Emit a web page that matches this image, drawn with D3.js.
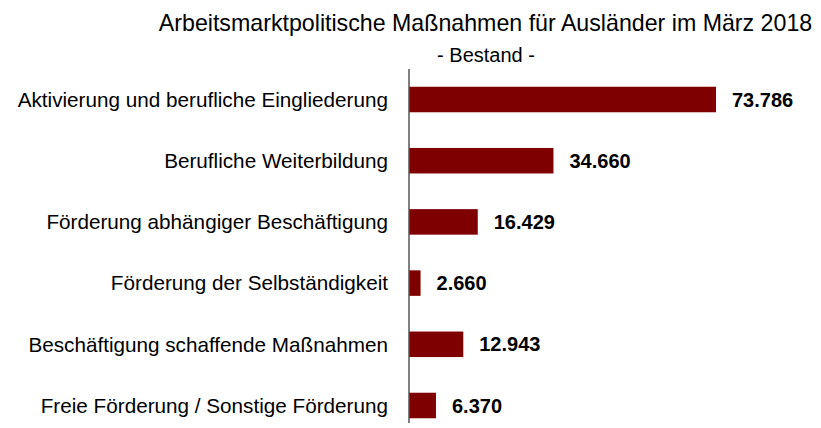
<!DOCTYPE html>
<html>
<head>
<meta charset="utf-8">
<script src="https://cdn.jsdelivr.net/npm/d3@7"></script>
<style>
  html, body { margin: 0; padding: 0; background: #ffffff; }
  svg { display: block; }
  text { font-family: "Liberation Sans", Arial, Helvetica, sans-serif; fill: #000; }
</style>
</head>
<body>
<svg id="chart" width="821" height="428"></svg>
<script>
// Bestand je Maßnahmenart
const categories = [
  "Aktivierung und berufliche Eingliederung",
  "Berufliche Weiterbildung",
  "Förderung abhängiger Beschäftigung",
  "Förderung der Selbständigkeit",
  "Beschäftigung schaffende Maßnahmen",
  "Freie Förderung / Sonstige Förderung"
];
const values = [73786, 34660, 16429, 2660, 12943, 6370];

const titleText = "Arbeitsmarktpolitische Maßnahmen für Ausländer im März 2018";
const subtitleText = "- Bestand -";

const svg = d3.select("#chart");
const x0 = 409.5;

const fmt = d3.formatLocale({ decimal: ",", thousands: ".", grouping: [3], currency: ["", " €"] }).format(",d");

const x = d3.scaleLinear()
  .domain([0, 80000])
  .range([x0, x0 + 306.5 * 80000 / 73786]);

const y = d3.scaleBand()
  .domain(categories)
  .range([69, 436])
  .paddingInner(0.583)
  .paddingOuter(0.29);

// Titel
svg.append("text")
  .attr("x", 485.5)
  .attr("y", 31)
  .attr("text-anchor", "middle")
  .style("font-size", "23.2px")
  .text(titleText);

svg.append("text")
  .attr("x", 486)
  .attr("y", 62.3)
  .attr("text-anchor", "middle")
  .style("font-size", "20px")
  .text(subtitleText);

// Balken
svg.append("g")
  .selectAll("rect")
  .data(values)
  .join("rect")
  .attr("x", x(0))
  .attr("y", (d, i) => y(categories[i]))
  .attr("width", d => x(d) - x(0))
  .attr("height", y.bandwidth())
  .attr("fill", "#7f0000");

// Werte
svg.append("g")
  .selectAll("text")
  .data(values)
  .join("text")
  .attr("x", d => x(d) + 16)
  .attr("y", (d, i) => y(categories[i]) + y.bandwidth() / 2)
  .attr("dy", "0.36em")
  .style("font-size", "20px")
  .style("font-weight", "bold")
  .text(d => fmt(d));

// Kategorienachse
const axis = d3.axisLeft(y).tickSize(0).tickPadding(21);
const gAxis = svg.append("g")
  .attr("transform", `translate(${x0 - 0.5},0)`)
  .call(axis);
gAxis.select(".domain").remove();
gAxis.selectAll("text")
  .style("font-size", "20.7px")
  .style("font-family", '"Liberation Sans", Arial, sans-serif')
  .attr("dy", "0.35em");

svg.append("line")
  .attr("x1", x0 - 0.5).attr("x2", x0 - 0.5)
  .attr("y1", 69).attr("y2", 423)
  .attr("stroke", "#000")
  .attr("stroke-width", 1);
</script>
</body>
</html>
